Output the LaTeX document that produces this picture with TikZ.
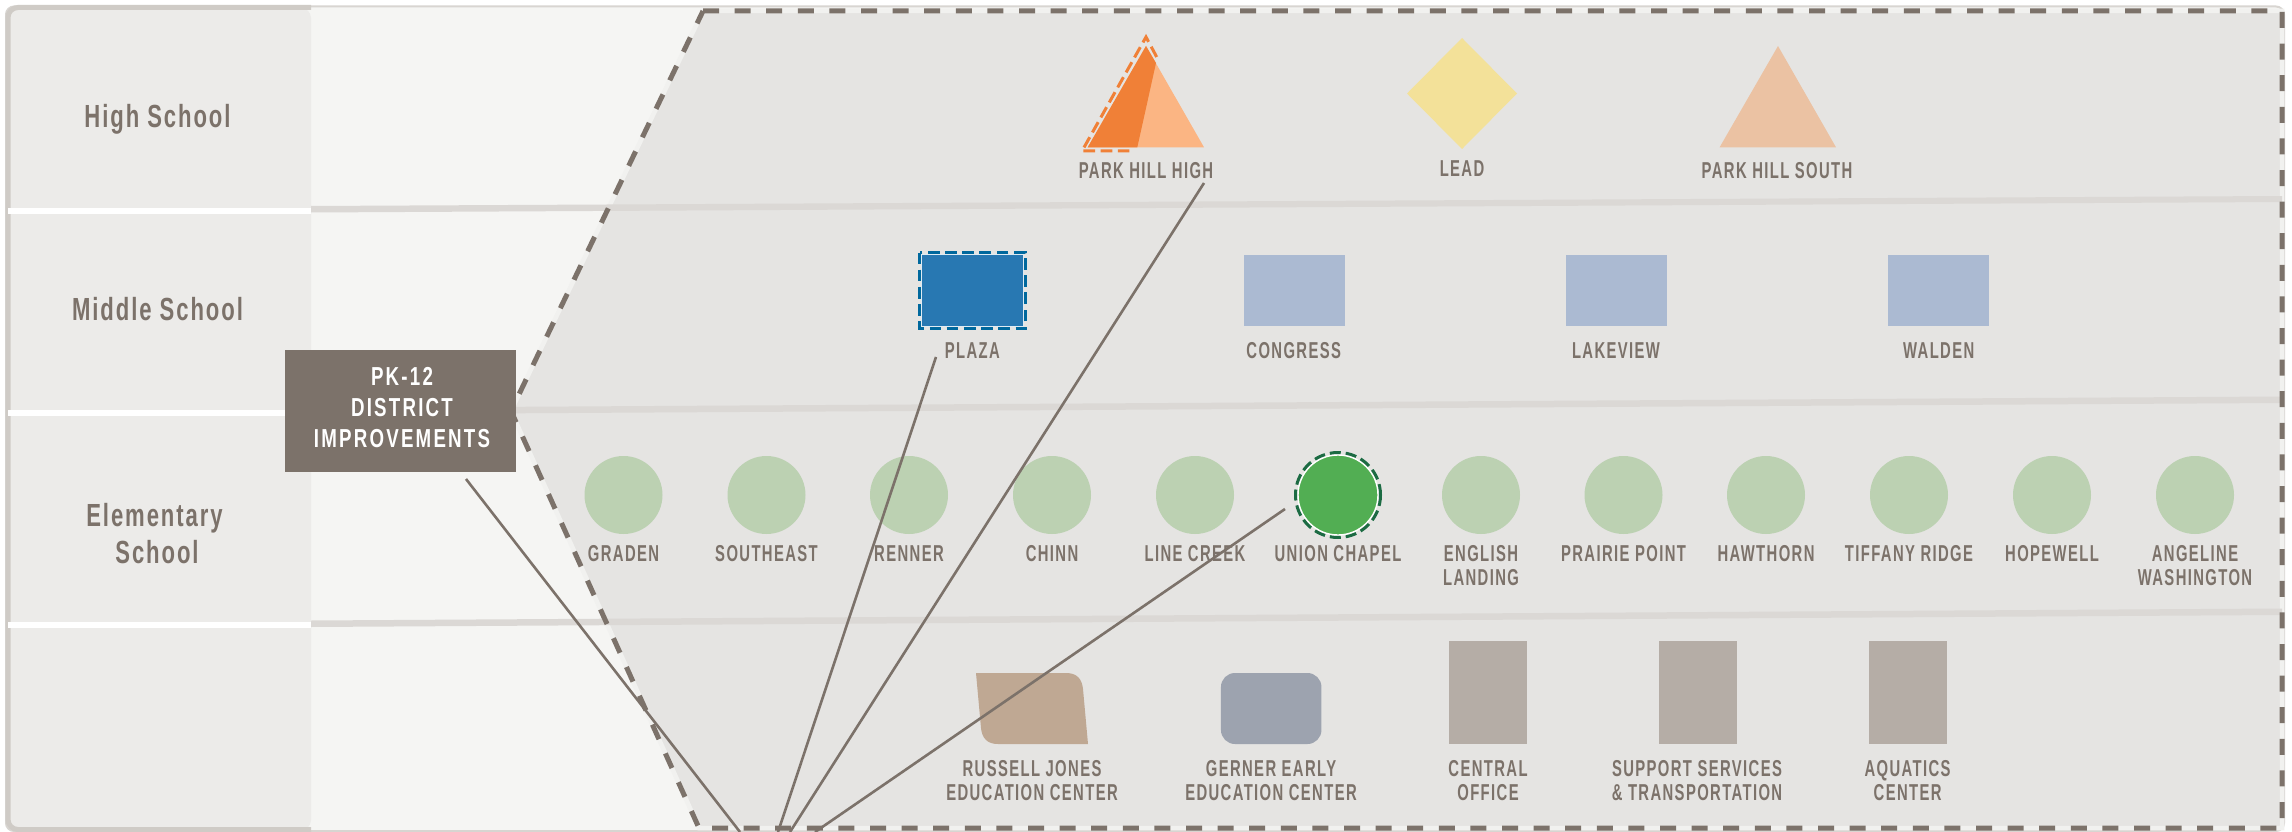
\documentclass[tikz,border=0pt]{standalone}
\usepackage{fontspec}
\setmainfont{Liberation Sans}
\newfontfamily\lblfont[FakeStretch=0.645,LetterSpace=6]{Liberation Sans Bold}
\newfontfamily\rowfont[FakeStretch=0.69,LetterSpace=6]{Liberation Sans Bold}
\newfontfamily\boxfont[FakeStretch=0.72,LetterSpace=8.5]{Liberation Sans Bold}
\definecolor{ink}{HTML}{7C726A}
\definecolor{pagelight}{HTML}{F5F5F3}
\definecolor{leftpanel}{HTML}{ECEBE9}
\definecolor{edge}{HTML}{CFCBC6}
\definecolor{thinedge}{HTML}{D8D5D1}
\definecolor{zone}{HTML}{E5E4E2}
\definecolor{zonehalo}{HTML}{F1F1EF}
\definecolor{sep}{HTML}{DBD8D5}
\definecolor{pale green}{HTML}{BCD1B2}
\definecolor{strong green}{HTML}{52AE53}
\definecolor{dark green}{HTML}{1C6B43}
\definecolor{pale blue}{HTML}{ABBAD2}
\definecolor{strong blue}{HTML}{2878B2}
\definecolor{dark blue}{HTML}{00689D}
\definecolor{pale orange}{HTML}{FBB583}
\definecolor{strong orange}{HTML}{F08037}
\definecolor{south orange}{HTML}{EBC2A3}
\definecolor{lead yellow}{HTML}{F3E199}
\definecolor{tan}{HTML}{BFA893}
\definecolor{slate}{HTML}{9DA3AF}
\definecolor{stone}{HTML}{B5ADA6}
\tikzset{
  lbl/.style={anchor=north,inner sep=0pt,align=center,text=ink,font=\lblfont\fontsize{23}{24}\selectfont},
  rowlbl/.style={anchor=north,inner sep=0pt,align=center,text=ink,font=\rowfont\fontsize{32}{37}\selectfont},
  schoolcircle/.style={circle,fill=pale green,draw=none,minimum size=78pt,inner sep=0pt},
  mssquare/.style={rectangle,fill=pale blue,draw=none,minimum width=101pt,minimum height=71.5pt,inner sep=0pt},
  tallbox/.style={rectangle,fill=stone,draw=none,minimum width=78pt,minimum height=103pt,inner sep=0pt},
  zoneline/.style={draw=ink,line width=5pt,dash pattern=on 16pt off 15.6pt},
  link/.style={draw=ink,line width=2.6pt},
  focusdash/.style={line width=3pt,dash pattern=on 11.7pt off 5.5pt}
}
\begin{document}
\begin{tikzpicture}[x=1pt,y=-1pt]
\useasboundingbox (0,0) rectangle (2292,832);
\fill[white] (0,0) rectangle (2292,832);
% panels
\draw[fill=pagelight,draw=thinedge,line width=2pt,rounded corners=8pt] (6,6.5) rectangle (2284,831);
\fill[leftpanel,rounded corners=10pt] (8,8) -- (311,8) -- (311,830) -- (8,830) -- cycle;
\draw[edge,line width=5pt,rounded corners=10pt] (311,7.5) -- (8,7.5) -- (8,829.5) -- (311,829.5);
% zone
\path[fill=zone,draw=zonehalo,line width=4.5pt] (703,11) -- (2282,11) -- (2282,828) -- (699,828) -- (511,411) -- cycle;
% band separators
\fill[sep] (311,206) -- (2282,196) -- (2282,202) -- (311,212.5) -- cycle;
\fill[sep] (311,408) -- (2282,396.5) -- (2282,403) -- (311,414.5) -- cycle;
\fill[sep] (311,620.5) -- (2282,608.5) -- (2282,615) -- (311,627) -- cycle;
\fill[white] (8,208) rectangle (311,214);
\fill[white] (8,409.5) rectangle (311,415.5);
\fill[white] (8,622) rectangle (311,628);
\draw[zoneline] (703,11) -- (2282,11) -- (2282,828) -- (699,828) -- (511,411) -- cycle;
% row labels
\node[rowlbl] (rowhigh) at (157.5,104.5) {High School};
\node[rowlbl] (rowmiddle) at (157.5,297.5) {Middle School};
\node[rowlbl] (rowelem) at (154.5,503.5) {Elementary\\\hspace*{5pt}School};
% district box
\node[rectangle,fill=ink,minimum width=231pt,minimum height=122pt,inner sep=0pt] (district) at (400.5,411) {};
\node[anchor=north,inner sep=0pt,align=center,text=white,font=\boxfont\fontsize{26}{31}\selectfont] (districttext) at (402,367.5) {PK-12\\DISTRICT\\IMPROVEMENTS};
% high school
\fill[pale orange] (1146,46) -- (1204,147.3) -- (1087.7,147.3) -- cycle;
\fill[strong orange] (1146,46) -- (1156,63) -- (1137.3,147.3) -- (1087.7,147.3) -- cycle;
\draw[strong orange,focusdash] (1156.7,57) -- (1146,37) -- (1082,151) -- (1133,151);
\node[lbl] (parkhill) at (1146,162.5) {PARK HILL HIGH};
\fill[lead yellow] (1462,38) -- (1517,93.5) -- (1462,149) -- (1407,93.5) -- cycle;
\node[lbl] (lead) at (1462,160.5) {LEAD};
\fill[south orange] (1778,46) -- (1836,147.3) -- (1719.6,147.3) -- cycle;
\node[lbl] (parksouth) at (1777,162.5) {PARK HILL SOUTH};
% middle school
\node[rectangle,fill=strong blue,draw=white!85!strong blue,line width=1pt,minimum width=102pt,minimum height=71.5pt,inner sep=0pt] (plaza) at (972.7,290.3) {};
\draw[dark blue,focusdash] (919.5,252.5) rectangle (1025.5,328.5);
\node[lbl] (plazat) at (972.3,342.5) {PLAZA};
\node[mssquare] (congress) at (1294.2,290.3) {};
\node[lbl] (congresst) at (1293.7,342.5) {CONGRESS};
\node[mssquare] (lakeview) at (1616.5,290.3) {};
\node[lbl] (lakeviewt) at (1616,342.5) {LAKEVIEW};
\node[mssquare] (walden) at (1938.5,290.3) {};
\node[lbl] (waldent) at (1938.7,342.5) {WALDEN};
% elementary
\node[schoolcircle] (graden) at (623.5,495) {};
\node[lbl] (gradent) at (623.5,545.5) {GRADEN};
\node[schoolcircle] (southeast) at (766.5,495) {};
\node[lbl] (southeastt) at (766.5,545.5) {SOUTHEAST};
\node[schoolcircle] (renner) at (909,495) {};
\node[lbl] (rennert) at (909,545.5) {RENNER};
\node[schoolcircle] (chinn) at (1052,495) {};
\node[lbl] (chinnt) at (1052,545.5) {CHINN};
\node[schoolcircle] (linecreek) at (1195,495) {};
\node[lbl] (linecreekt) at (1195,545.5) {LINE CREEK};
\node[circle,fill=strong green,draw=white,line width=1.4pt,minimum size=80pt,inner sep=0pt] (union) at (1338,495) {};
\draw[dark green,focusdash,dash pattern=on 11pt off 5pt] (union.center) circle[radius=42.5pt];
\node[lbl] (uniont) at (1338,545.5) {UNION CHAPEL};
\node[schoolcircle] (english) at (1481,495) {};
\node[lbl] (englisht) at (1481,545.5) {ENGLISH\\LANDING};
\node[schoolcircle] (prairie) at (1623.5,495) {};
\node[lbl] (prairiet) at (1623.5,545.5) {PRAIRIE POINT};
\node[schoolcircle] (hawthorn) at (1766,495) {};
\node[lbl] (hawthornt) at (1766,545.5) {HAWTHORN};
\node[schoolcircle] (tiffany) at (1909,495) {};
\node[lbl] (tiffanyt) at (1909,545.5) {TIFFANY RIDGE};
\node[schoolcircle] (hopewell) at (2052,495) {};
\node[lbl] (hopewellt) at (2052,545.5) {HOPEWELL};
\node[schoolcircle] (angeline) at (2195,495) {};
\node[lbl] (angelinet) at (2195,545.5) {ANGELINE\\WASHINGTON};
% other facilities
\fill[tan] (976,673) -- (1066,673) .. controls (1077,673) and (1082,679) .. (1083,689) -- (1088,744) -- (998,744) .. controls (987,744) and (982,738) .. (981,728) -- cycle;
\node[lbl] (russell) at (1032,760.5) {RUSSELL JONES\\EDUCATION CENTER};
\node[rectangle,rounded corners=14pt,fill=slate,minimum width=100.5pt,minimum height=71pt,inner sep=0pt] (gerner) at (1271.2,708.5) {};
\node[lbl] (gernert) at (1271,760.5) {GERNER EARLY\\EDUCATION CENTER};
\node[tallbox] (central) at (1488.2,692.8) {};
\node[lbl] (centralt) at (1488,760.5) {CENTRAL\\OFFICE};
\node[tallbox] (support) at (1698,692.8) {};
\node[lbl] (supportt) at (1697,760.5) {SUPPORT SERVICES\\\& TRANSPORTATION};
\node[tallbox] (aquatics) at (1908,692.8) {};
\node[lbl] (aquaticst) at (1907.6,760.5) {AQUATICS\\CENTER};
% connectors
\coordinate (tailA) at (466,479);
\coordinate (footA) at (740,832);
\coordinate (tailB) at (936,357);
\coordinate (footB) at (778,832);
\coordinate (tailC) at (1204,183);
\coordinate (footC) at (790,832);
\coordinate (tailD) at (1285,509);
\coordinate (footD) at (815,832);
\draw[link] (tailA) -- (footA);
\draw[link] (tailB) -- (footB);
\draw[link] (tailC) -- (footC);
\draw[link] (tailD) -- (footD);
\end{tikzpicture}
\end{document}
